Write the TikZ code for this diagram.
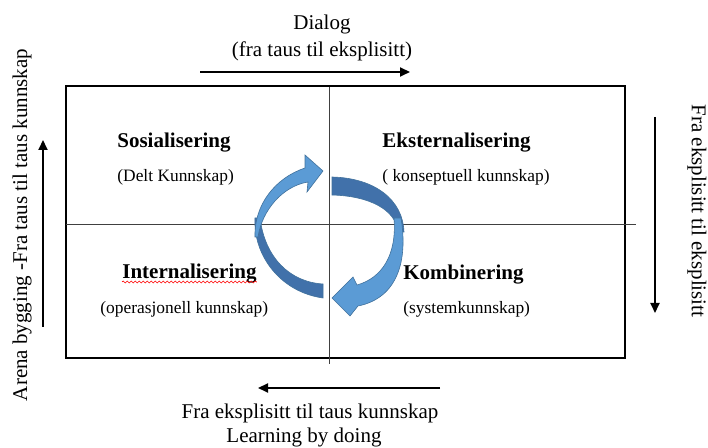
\documentclass[tikz,border=0pt]{standalone}
\usepackage{fontspec}
\setmainfont{Liberation Serif}
\usetikzlibrary{arrows.meta,decorations.pathmorphing}

\definecolor{ringlight}{RGB}{91,155,213}
\definecolor{ringdark}{RGB}{65,113,170}
\definecolor{ringedge}{RGB}{65,113,156}

\begin{document}
\begin{tikzpicture}[x=0.5pt, y=-0.5pt,
    box/.style={draw, line width=1pt, rectangle, minimum width=279.5pt, minimum height=136pt, inner sep=0pt},
    divider/.style={line width=0.5pt, draw=black!75},
    flow/.style={line width=1pt, -{Triangle[length=5pt,width=4.5pt]}},
    sidetext/.style={font=\fontsize{10.5}{12.6}\selectfont, inner sep=0pt},
    heading/.style={font=\fontsize{10.5}{12.6}\selectfont\bfseries, inner sep=0pt, anchor=base west},
    subtext/.style={font=\fontsize{8.7}{10.4}\selectfont, inner sep=0pt, anchor=base west},
    light/.style={fill=ringlight, draw=ringedge, line width=0.3pt},
    dark/.style={fill=ringdark, draw=ringedge, line width=0.3pt}
]
\useasboundingbox (0,0) rectangle (708,448);

% frame and dividers
\node[box] (frame) at (345.5,222) {};
\coordinate (vtop) at (329,87);
\coordinate (vbot) at (329,364);
\coordinate (hleft) at (66,225);
\coordinate (hright) at (636,225);
\draw[divider] (vtop) -- (vbot);
\draw[divider] (hleft) -- (hright);

% top: dialog
\node[sidetext, anchor=base] (dialog) at (322,30) {Dialog};
\node[sidetext, anchor=base] (dialogsub) at (322,57) {(fra taus til eksplisitt)};
\coordinate (topL) at (200,72);
\coordinate (topR) at (410,72);
\draw[flow] (topL) -- (topR);

% bottom: learning by doing
\coordinate (botR) at (440,388);
\coordinate (botL) at (258,388);
\draw[flow] (botR) -- (botL);
\node[sidetext, anchor=base] (fromexp) at (310,419) {Fra eksplisitt til taus kunnskap};
\node[sidetext, anchor=base] (doing) at (304,443) {Learning by doing};

% left: arena
\node[sidetext, rotate=90] (arena) at (22,225) {Arena bygging -Fra taus til taus kunnskap};
\coordinate (leftB) at (43,327);
\coordinate (leftT) at (43,140);
\draw[flow] (leftB) -- (leftT);

% right side
\node[sidetext, rotate=-90] (expexp) at (697,211) {Fra eksplisitt til eksplisitt};
\coordinate (rightT) at (655,117);
\coordinate (rightB) at (655,313);
\draw[flow] (rightT) -- (rightB);

% quadrants
\node[heading] (sos) at (117,148) {Sosialisering};
\node[subtext] (sossub) at (117,182) {(Delt Kunnskap)};
\node[heading] (eks) at (382,148) {Eksternalisering};
\node[subtext] (ekssub) at (382,182) {( konseptuell kunnskap)};
\node[heading] (int) at (122,279) {Internalisering};
\node[subtext] (intsub) at (100,314) {(operasjonell kunnskap)};
\node[heading] (komb) at (403,280) {Kombinering};
\node[subtext] (kombsub) at (403,314) {(systemkunnskap)};
\draw[red, line width=0.3pt, decorate, decoration={snake, amplitude=0.5pt, segment length=2pt}]
    ([yshift=-1.5pt]int.base west) -- ([yshift=-1.5pt]int.base east);

% ring: left half
\path[dark] (255,218) .. controls (253,255) and (280,292) .. (323,298) -- (323,284)
    .. controls (290,282) and (265,258) .. (260,218) -- cycle;
\path[light] (255,237) .. controls (254,205) and (275,178) .. (305,168) -- (305,155)
    -- (323,171) -- (307,192) -- (308,182) .. controls (283,186) and (262,210) .. (258,237) -- cycle;

% ring: right half
\path[dark] (332,177) .. controls (375,178) and (403,200) .. (404,232) -- (398,232)
    .. controls (396,210) and (370,196) .. (332,195) -- cycle;
\path[light] (401,218) .. controls (408,260) and (398,298) .. (358,306) -- (350,316)
    -- (332,298) -- (353,277) -- (357,285) .. controls (382,278) and (397,255) .. (394,218) -- cycle;

\end{tikzpicture}
\end{document}
